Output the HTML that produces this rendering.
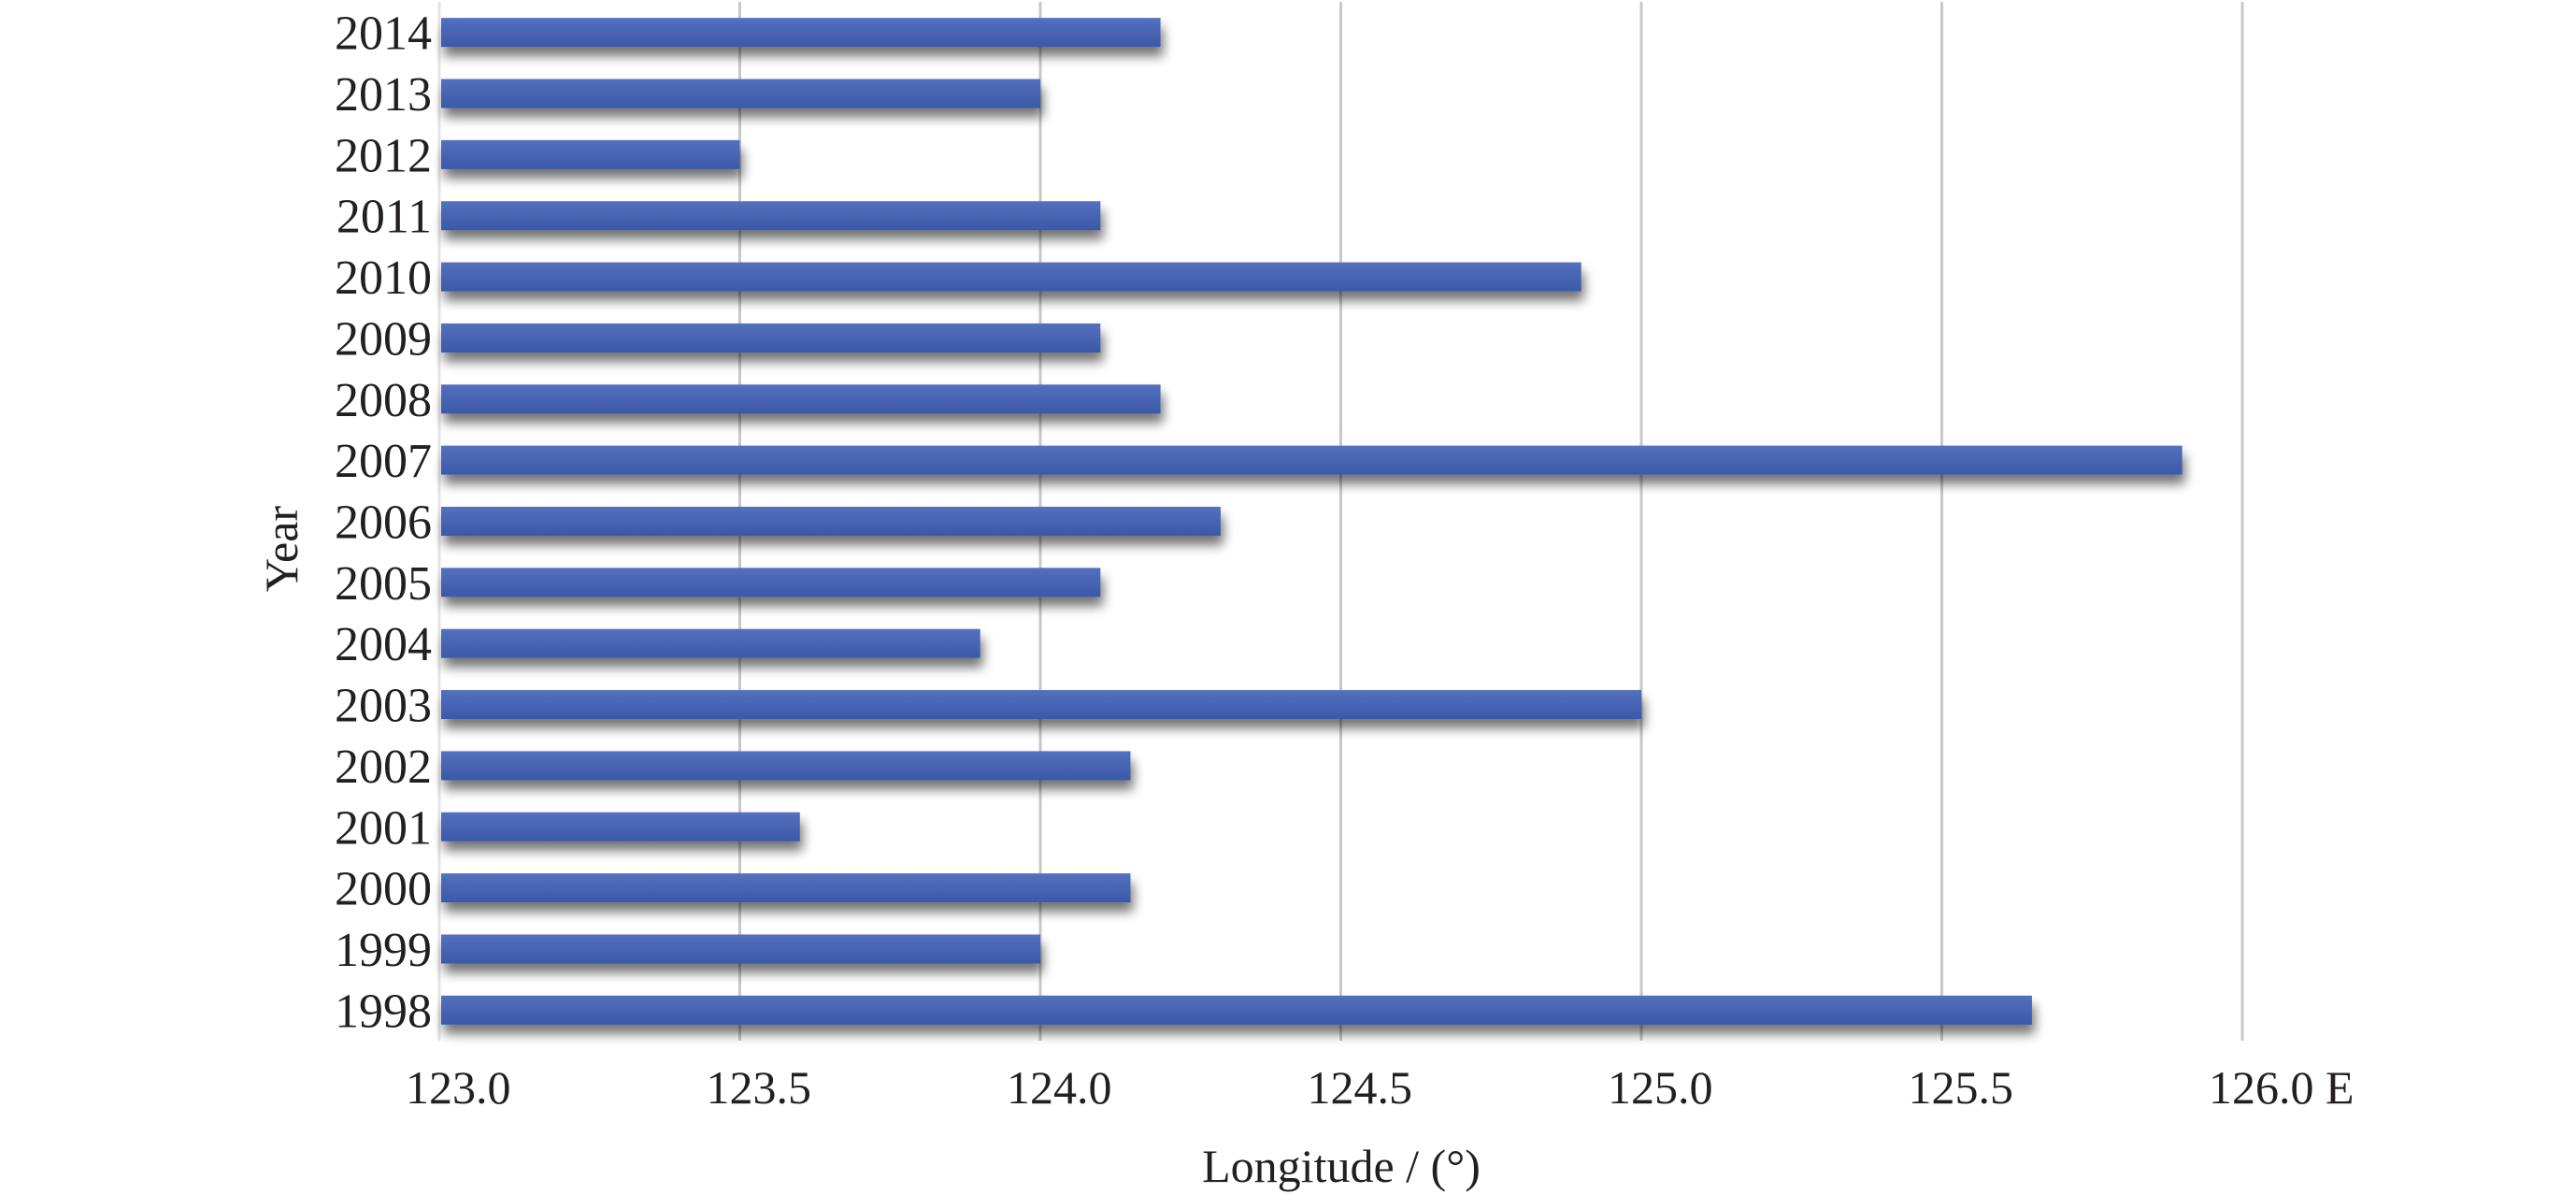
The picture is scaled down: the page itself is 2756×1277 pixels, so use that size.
<!DOCTYPE html>
<html><head><meta charset="utf-8">
<style>
html,body{margin:0;padding:0;background:#fff;}
svg{display:block;font-family:"Liberation Serif",serif;}
</style></head>
<body>
<svg id="chart" width="2756" height="1277" viewBox="0 0 2756 1277" xmlns="http://www.w3.org/2000/svg">
<defs>
<linearGradient id="barGrad" x1="0" y1="0" x2="0" y2="1">
<stop offset="0" stop-color="#5470bd"/>
<stop offset="1" stop-color="#3b58a9"/>
</linearGradient>
<filter id="shadow" x="-5%" y="-50%" width="110%" height="250%">
<feGaussianBlur in="SourceAlpha" stdDeviation="6"/>
<feOffset dx="3" dy="10" result="b"/>
<feComponentTransfer><feFuncA type="linear" slope="0.55"/></feComponentTransfer>
<feMerge><feMergeNode/><feMergeNode in="SourceGraphic"/></feMerge>
</filter>
</defs>
<g id="grid"></g>
<g id="bars"></g>
<g id="ylabels"></g>
<g id="xlabels"></g>
<text x="0" y="0" transform="translate(318,587) rotate(-90)" text-anchor="middle" font-size="50" fill="#231f20">Year</text>
<text x="1435" y="1264" text-anchor="middle" font-size="50" fill="#231f20">Longitude / (°)</text>
</svg>
<script>
const categories = ["1998","1999","2000","2001","2002","2003","2004","2005","2006","2007","2008","2009","2010","2011","2012","2013","2014"];
const values = [125.65,124.0,124.15,123.6,124.15,125.0,123.9,124.1,124.3,125.9,124.2,124.1,124.9,124.1,123.5,124.0,124.2];
const ticks = [123.0,123.5,124.0,124.5,125.0,125.5,126.0];
const tickLabels = ["123.0","123.5","124.0","124.5","125.0","125.5","126.0 E"];

const NS = "http://www.w3.org/2000/svg";
const plotL = 470, plotR = 2399, plotT = 2, plotB = 1113;
const xMin = 123.0, xMax = 126.0;
function xs(v){ return plotL + (v - xMin) / (xMax - xMin) * (plotR - plotL); }
const band = (plotB - plotT) / categories.length;
function yc(i){ return plotB - (i + 0.5) * band; }
const barH = 31;

const grid = document.getElementById('grid');
ticks.forEach((t, i) => {
  const l = document.createElementNS(NS, 'line');
  
  
  l.setAttribute('x1', xs(t)); l.setAttribute('x2', xs(t));
  l.setAttribute('y1', plotT); l.setAttribute('y2', plotB);
  l.setAttribute('stroke', i === 0 ? '#e4e4e4' : '#c8c8c8');
  l.setAttribute('stroke-width', '3');
  grid.appendChild(l);
  const tx = document.createElementNS(NS, 'text');
  
  
  tx.setAttribute('x', xs(t) - 36);
  tx.setAttribute('y', 1180);
  tx.setAttribute('font-size', '50');
  tx.setAttribute('fill', '#231f20');
  tx.textContent = tickLabels[i];
  document.getElementById('xlabels').appendChild(tx);
});

const bars = document.getElementById('bars');
const ylab = document.getElementById('ylabels');
categories.forEach((c, i) => {
  const r = document.createElementNS(NS, 'rect');
  
  
  r.setAttribute('x', plotL + 2);
  r.setAttribute('y', yc(i) - barH / 2);
  r.setAttribute('width', xs(values[i]) - plotL - 2);
  r.setAttribute('height', barH);
  r.setAttribute('fill', 'url(#barGrad)');
  r.setAttribute('filter', 'url(#shadow)');
  bars.appendChild(r);
  const t = document.createElementNS(NS, 'text');
  
  
  t.setAttribute('x', 462);
  t.setAttribute('y', yc(i) + 18);
  t.setAttribute('text-anchor', 'end');
  t.setAttribute('font-size', '52');
  t.setAttribute('fill', '#231f20');
  t.textContent = c;
  ylab.appendChild(t);
});
</script>
</body></html>
